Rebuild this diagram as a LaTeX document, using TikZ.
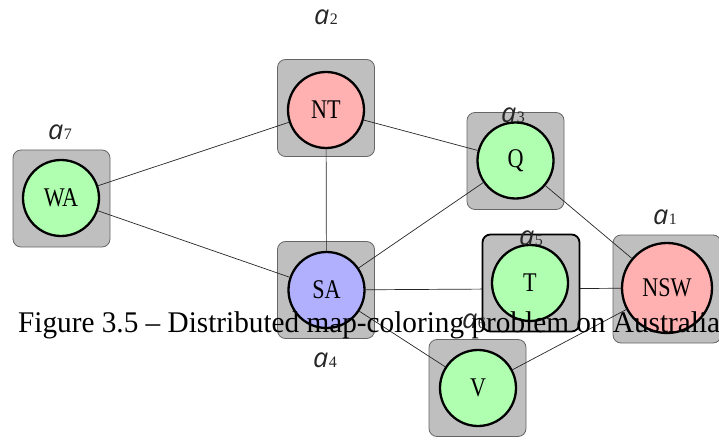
\documentclass[tikz,border=0pt]{standalone}
\usepackage{fontspec}
\setmainfont{Liberation Serif}
\newfontfamily\nodefont{Liberation Serif}[FakeStretch=0.82]
\newfontfamily\capfont{Liberation Serif}[FakeStretch=0.975]
\newfontfamily\labafont{Open Sans}
\definecolor{cred}{HTML}{FFB0B0}
\definecolor{cgreen}{HTML}{B0FFB0}
\definecolor{cblue}{HTML}{B0B0FF}
\definecolor{boxgray}{HTML}{BFBFBF}
\newcommand\agentlab[1]{{\color{black!85}\fontsize{27}{27}\labafont\itshape a}\kern0.5pt{\color{black!85}\fontsize{16}{16}\selectfont #1}}
\tikzset{
  agentbox/.style={draw=black!60, fill=boxgray, rounded corners=8pt, line width=0.8pt, minimum size=97pt, inner sep=0pt},
  tbox/.style={agentbox, draw=black, line width=1.8pt},
  var/.style={circle, draw=black, line width=2.3pt, minimum size=76pt, inner sep=0pt, font=\fontsize{27}{27}\nodefont},
  link/.style={draw=black!85, line width=0.7pt},
  lab/.style={anchor=base, inner sep=0pt},
}
\begin{document}
\begin{tikzpicture}[x=1pt,y=-1pt]
\useasboundingbox (0,0) rectangle (719,438);
% boxes
\node[agentbox] (bNT) at (326,108) {};
\node[agentbox] (bWA) at (61.5,198.5) {};
\node[agentbox] (bQ) at (515.5,161) {};
\node[agentbox] (bSA) at (326,290) {};
\node[agentbox] (bV) at (477.5,388) {};
\node[agentbox, minimum size=108pt] (bNSW) at (667,289) {};
% variables
\node[var, fill=cred] (NT) at (326,110) {NT};
\node[var, fill=cgreen] (WA) at (61,198) {WA};
\node[var, fill=cgreen] (Q) at (515.5,160.5) {Q};
\node[var, fill=cblue] (SA) at (326.5,290) {SA};
\node[var, fill=cgreen] (V) at (478,388) {V};
\node[var, fill=cred, minimum size=90pt] (NSW) at (667,288) {NSW};
% constraints
\draw[link] (WA) -- (NT);
\draw[link] (WA) -- (SA);
\draw[link] (NT) -- (SA);
\draw[link] (NT) -- (Q);
\draw[link] (Q) -- (SA);
\draw[link] (Q) -- (NSW);
\draw[link] (SA) -- (NSW);
\draw[link] (SA) -- (V);
\draw[link] (V) -- (NSW);
% Tasmania
\node[tbox] (bT) at (531,283) {};
\node[var, fill=cgreen] (T) at (530,283) {T};
% agent labels
\node[lab] (a1) at (665,225) {\agentlab{1}};
\node[lab] (a2) at (326,25) {\agentlab{2}};
\node[lab] (a3) at (513,123) {\agentlab{3}};
\node[lab] (a4) at (325,367) {\agentlab{4}};
\node[lab] (a5) at (531,245) {\agentlab{5}};
\node[lab] (a6) at (474,328) {\agentlab{6}};
\node[lab] (a7) at (60,140) {\agentlab{7}};
% caption
\node[anchor=base west, inner sep=0pt, font=\fontsize{30}{30}\capfont] (cap) at (18,332) {Figure 3.5 – Distributed map-coloring problem on Australia};
\end{tikzpicture}
\end{document}
